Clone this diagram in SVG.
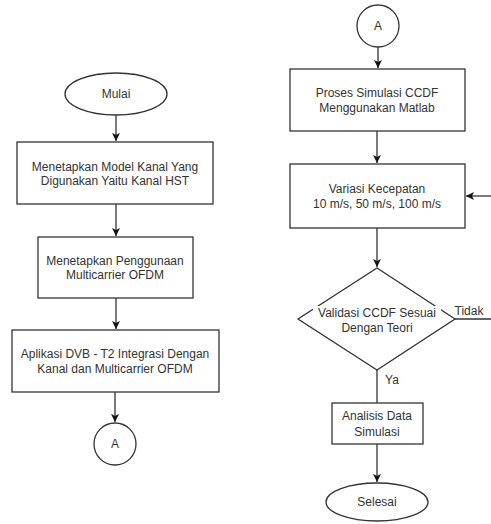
<svg xmlns="http://www.w3.org/2000/svg" width="491" height="524" viewBox="0 0 491 524">
<defs>
<style>
.n{fill:#fff;stroke:#333;stroke-width:1.3}
.t{font-family:"Liberation Sans",Arial,sans-serif;font-size:12px;fill:#333;text-anchor:middle}
.c{fill:none;stroke:#333;stroke-width:1.3}
</style>
<marker id="ah" viewBox="0 0 10 10" refX="10" refY="5" markerWidth="8" markerHeight="8" markerUnits="userSpaceOnUse" orient="auto">
<path d="M0,0 L10,5 L0,10 L2.5,5 Z" fill="#111"/>
</marker>
</defs>
<rect width="491" height="524" fill="#fff"/>
<g id="connectors">
<path class="c" d="M116,115 V141" marker-end="url(#ah)"/>
<path class="c" d="M116,204 V236" marker-end="url(#ah)"/>
<path class="c" d="M116,298 V329" marker-end="url(#ah)"/>
<path class="c" d="M115,392 V422" marker-end="url(#ah)"/>
<path class="c" d="M378,47 V68" marker-end="url(#ah)"/>
<path class="c" d="M377,131 V163" marker-end="url(#ah)"/>
<path class="c" d="M377,228 V267" marker-end="url(#ah)"/>
<path class="c" d="M491,196 H466" marker-end="url(#ah)"/>
<path class="c" d="M455,319 H491"/>
<path class="c" d="M377,370 V403"/>
<path class="c" d="M377,444 V482" marker-end="url(#ah)"/>
<text class="t" x="469" y="315">Tidak</text>
<text class="t" x="392" y="384">Ya</text>
</g>
<g id="mulai">
<ellipse class="n" cx="116" cy="94" rx="51" ry="21"/>
<text class="t" x="116" y="98">Mulai</text>
</g>
<g id="model-kanal">
<rect class="n" x="17" y="142" width="196" height="62"/>
<text class="t" x="115" y="171">Menetapkan Model Kanal Yang</text>
<text class="t" x="115" y="185">Digunakan Yaitu Kanal HST</text>
</g>
<g id="ofdm">
<rect class="n" x="38" y="237" width="155" height="61"/>
<text class="t" x="115" y="265">Menetapkan Penggunaan</text>
<text class="t" x="115" y="279">Multicarrier OFDM</text>
</g>
<g id="dvb">
<rect class="n" x="12" y="330" width="207" height="62"/>
<text class="t" x="115" y="358">Aplikasi DVB - T2 Integrasi Dengan</text>
<text class="t" x="115" y="373">Kanal dan Multicarrier OFDM</text>
</g>
<g id="conn-a-left">
<circle class="n" cx="115" cy="444" r="21"/>
<text class="t" x="115" y="448">A</text>
</g>
<g id="conn-a-right">
<circle class="n" cx="378" cy="26" r="21"/>
<text class="t" x="378" y="30">A</text>
</g>
<g id="simulasi">
<rect class="n" x="290" y="69" width="175" height="62"/>
<text class="t" x="377" y="97">Proses Simulasi CCDF</text>
<text class="t" x="377" y="112">Menggunakan Matlab</text>
</g>
<g id="kecepatan">
<rect class="n" x="290" y="164" width="175" height="64"/>
<text class="t" x="377" y="193">Variasi Kecepatan</text>
<text class="t" x="377" y="208">10 m/s, 50 m/s, 100 m/s</text>
</g>
<g id="validasi">
<path class="n" d="M377,268 L455,319 L377,370 L298,319 Z"/>
<rect x="313" y="306" width="128" height="14" fill="#fff"/>
<rect x="339" y="321" width="76" height="14" fill="#fff"/>
<text class="t" x="377" y="317">Validasi CCDF Sesuai</text>
<text class="t" x="377" y="332">Dengan Teori</text>
</g>
<g id="analisis">
<rect class="n" x="332" y="403" width="91" height="41"/>
<text class="t" x="377" y="420">Analisis Data</text>
<text class="t" x="377" y="436">Simulasi</text>
</g>
<g id="selesai">
<ellipse class="n" cx="377" cy="502" rx="51" ry="19"/>
<text class="t" x="377" y="506">Selesai</text>
</g>
</svg>
